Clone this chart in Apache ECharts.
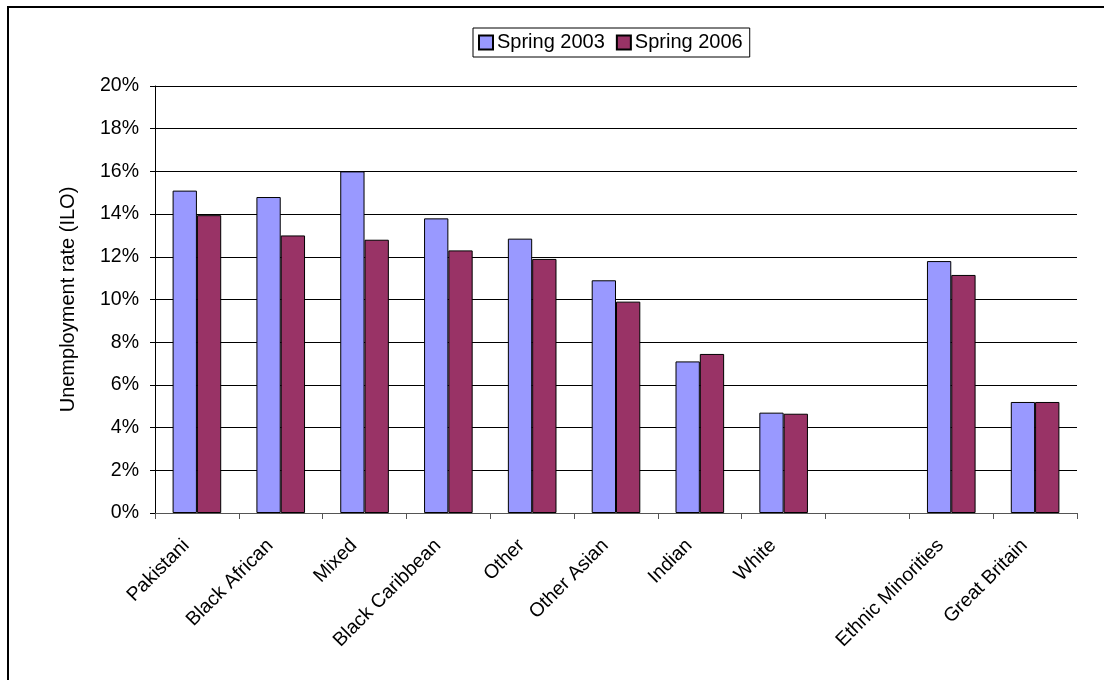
<!DOCTYPE html>
<html><head><meta charset="utf-8">
<script src="https://cdn.jsdelivr.net/npm/echarts@6/dist/echarts.min.js"></script>
<style>html,body{margin:0;padding:0;background:#fff}#c{width:1104px;height:680px}</style>
</head><body><div id="c"></div>
<script>
const categories = ['Pakistani','Black African','Mixed','Black Caribbean','Other','Other Asian','Indian','White','','Ethnic Minorities','Great Britain'];
const spring2003 = [15.1, 14.8, 16.0, 13.8, 12.85, 10.9, 7.1, 4.7, null, 11.8, 5.2];
const spring2006 = [13.95, 13.0, 12.8, 12.3, 11.9, 9.9, 7.45, 4.65, null, 11.15, 5.2];
const yTicks = [0,2,4,6,8,10,12,14,16,18,20];

const font = 'Liberation Sans, Arial, sans-serif';
const chart = echarts.init(document.getElementById('c'));
chart.setOption({
  animation: false,
  backgroundColor: '#fff',
  graphic: [{type:'rect', shape:{x:8, y:7, width:1200, height:800}, style:{fill:'none', stroke:'#000', lineWidth:2}, silent:true, z:100}],
  legend: {
    top: 28, left: 473, itemGap: 11, itemWidth: 14, itemHeight: 14,
    padding: [4, 7, 4, 5], borderColor: '#000', borderWidth: 1,
    textStyle: {fontFamily: font, fontSize: 20, lineHeight: 21, color: '#000', padding:[0,0,0,-1]},
    icon: 'rect',
    data: ['Spring 2003','Spring 2006']
  },
  grid: {left: 155, right: 27, top: 86, bottom: 167},
  xAxis: {
    type: 'category', data: categories,
    axisLine: {lineStyle: {color: '#555', width: 1}},
    axisTick: {show: true, length: 6, lineStyle: {color: '#555'}},
    axisLabel: {rotate: 45, fontFamily: font, fontSize: 19.5, color: '#000', margin: 19, interval: 0, padding: [0, 15, 0, 0]}
  },
  yAxis: {
    type: 'value', min: 0, max: 20, interval: 2,
    name: 'Unemployment rate (ILO)', nameLocation: 'middle', nameGap: 77,
    nameTextStyle: {fontFamily: font, fontSize: 20, color: '#000'},
    axisLine: {show: true, lineStyle: {color: '#000'}},
    axisTick: {show: true, length: 5, lineStyle: {color: '#000'}},
    axisLabel: {fontFamily: font, fontSize: 19.5, color: '#000', margin: 16,
      formatter: v => yTicks.indexOf(v) >= 0 ? v + '%' : ''},
    splitLine: {show: true, lineStyle: {color: '#000', width: 1}}
  },
  series: [
    {name: 'Spring 2003', type: 'bar', data: spring2003, barGap: '0%', barCategoryGap: '42%',
     itemStyle: {color: '#9999FF', borderColor: '#000', borderWidth: 1}},
    {name: 'Spring 2006', type: 'bar', data: spring2006, barGap: '0%', barCategoryGap: '42%',
     itemStyle: {color: '#993366', borderColor: '#000', borderWidth: 1}}
  ]
});
</script></body></html>
